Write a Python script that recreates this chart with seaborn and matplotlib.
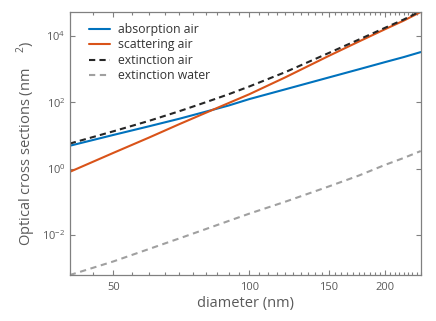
import numpy as np
import pandas as pd
import matplotlib
matplotlib.use("Agg")
import matplotlib.pyplot as plt
import seaborn as sns
from matplotlib.ticker import FixedLocator, NullFormatter, NullLocator

# values
diameter = [40, 50, 60, 70, 80, 90, 100, 120, 150, 175, 200, 220, 240]
absorption_air = [4.9, 10.4, 19, 32, 52, 80, 125, 245, 560, 990, 1630, 2310, 3270]
scattering_air = [0.8, 3.0, 8.7, 22, 48, 95, 175, 560, 2500, 6800, 16000, 29000, 53000]
extinction_air = [5.7, 13.4, 27.7, 54, 100, 175, 300, 805, 3060, 7790, 17630, 31310, 56270]
extinction_water = [6.2e-4, 1.6e-3, 3.8e-3, 7.9e-3, 0.015, 0.0265, 0.044, 0.10, 0.29, 0.62, 1.3, 2.1, 3.4]

x_major = [50, 100, 150, 200]
y_major = [1e-2, 1e0, 1e2, 1e4]

df = pd.DataFrame({
    "diameter": diameter,
    "absorption air": absorption_air,
    "scattering air": scattering_air,
    "extinction air": extinction_air,
    "extinction water": extinction_water,
})

sns.set_style("ticks")
plt.rcParams["font.family"] = ["Open Sans", "DejaVu Sans"]
plt.rcParams["mathtext.fontset"] = "custom"
plt.rcParams["mathtext.rm"] = "Open Sans"

grey = "#808080"
text_grey = "#5a5a5a"

fig = plt.figure(figsize=(4.36, 3.21), dpi=100)
ax = fig.add_axes([0.16, 0.1424, 0.805, 0.8212])

series = [
    ("absorption air", "#0072BD", None),
    ("scattering air", "#D95319", None),
    ("extinction air", "#262626", (3.0, 2.0)),
    ("extinction water", "#a0a0a0", (3.0, 2.2)),
]
for name, col, dash in series:
    sns.lineplot(data=df, x="diameter", y=name, ax=ax, color=col, lw=1.5, label=name)
    if dash is not None:
        ax.lines[-1].set_dashes(dash)

ax.set_xscale("log")
ax.set_yscale("log")
ax.set_xlim(40, 240)
ax.set_ylim(6.1e-4, 5.4e4)

ax.xaxis.set_major_locator(FixedLocator(x_major))
ax.set_xticklabels([str(v) for v in x_major])
ax.xaxis.set_minor_locator(FixedLocator([v for v in range(40, 241, 5) if v not in x_major]))
ax.xaxis.set_minor_formatter(NullFormatter())
ax.yaxis.set_major_locator(FixedLocator(y_major))
ax.yaxis.set_minor_locator(NullLocator())

ax.tick_params(which="both", direction="in", bottom=True, left=True, top=True, right=True,
               color=grey, labelcolor=text_grey, labelsize=8, width=0.8)
ax.tick_params(which="major", length=3.5)
ax.tick_params(which="minor", length=2)
ax.tick_params(axis="x", pad=5)
ax.tick_params(axis="y", pad=3)
for sp in ax.spines.values():
    sp.set_visible(True)
    sp.set_color(grey)
    sp.set_linewidth(0.9)

ax.set_xlabel("diameter (nm)", fontsize=10.5, color=text_grey, labelpad=2)
ax.set_ylabel("Optical cross sections (nm    $^{2}$)", fontsize=10.5, color=text_grey, labelpad=3)

leg = ax.legend(loc="upper left", bbox_to_anchor=(0.055, 0.957), frameon=False,
                fontsize=8.8, handlelength=1.7, handletextpad=0.65, labelspacing=0.2,
                borderpad=0, borderaxespad=0)
for t in leg.get_texts():
    t.set_color("#333333")

fig.savefig("out.png", dpi=100)
